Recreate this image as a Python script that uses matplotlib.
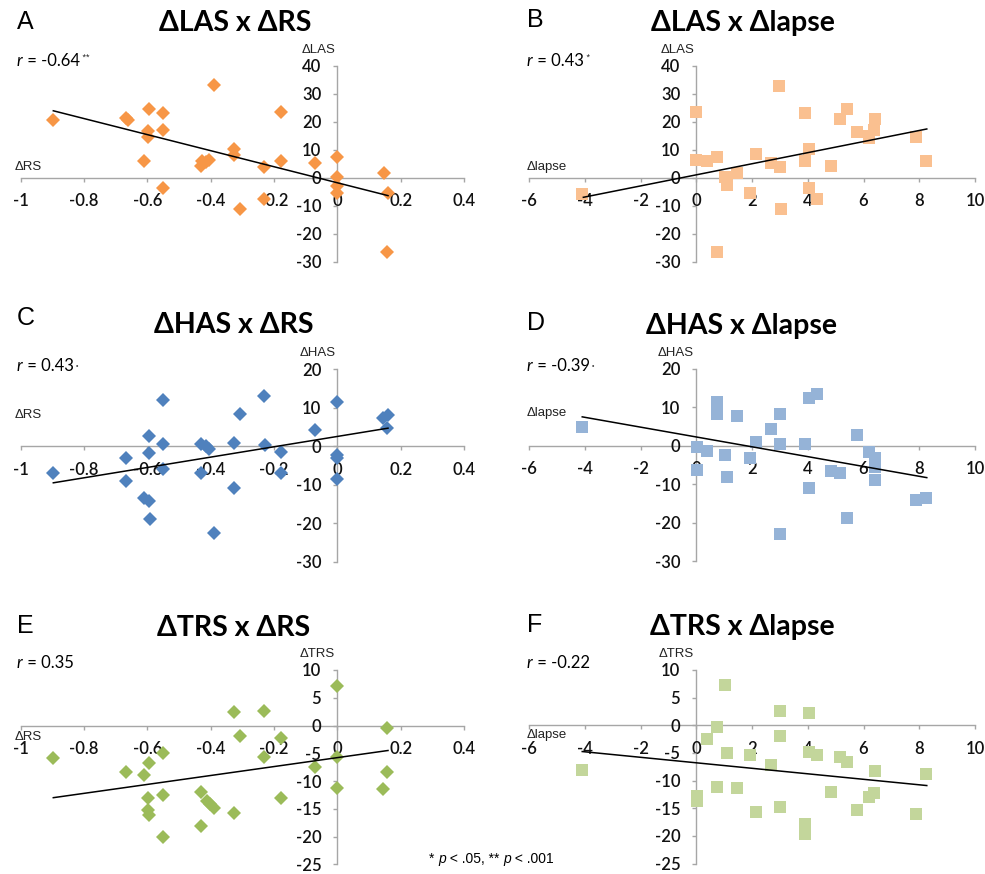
import matplotlib
matplotlib.use("Agg")
import matplotlib.pyplot as plt

plt.rcParams['axes.unicode_minus'] = False

# ---------------- data ----------------
A_x = [-0.897, -0.667, -0.66, -0.595, -0.551, -0.597, -0.597, -0.551, -0.61, -0.551, -0.39,
       -0.432, -0.428, -0.415, -0.405, -0.326, -0.326, -0.306, -0.231, -0.231, -0.178, -0.178,
       -0.069, 0.0, 0.0, 0.0, 0.0, 0.147, 0.16, 0.158]
A_y = [20.6, 21.5, 20.6, 24.5, 23.0, 16.7, 14.6, 17.0, 6.0, -3.6, 33.0,
       4.3, 6.0, 5.5, 6.5, 10.1, 8.1, -11.0, 3.9, -7.6, 23.6, 6.1,
       5.1, 7.5, 0.4, -2.9, -5.6, 1.8, -5.6, -26.5]
A_trend_x = [-0.897, 0.16]
A_trend_y = [23.9, -6.4]

B_x = [-4.09, 0.0, 0.0, 0.38, 0.73, 0.73, 1.03, 1.09, 1.45, 1.93, 2.13, 2.68, 2.98, 3.0, 3.03,
       3.9, 3.9, 4.05, 4.05, 4.32, 4.83, 5.16, 5.42, 5.78, 6.2, 6.36, 6.42, 7.89, 8.25, 6.2]
B_y = [-5.95, 23.6, 6.3, 6.0, 7.5, -26.7, 0.4, -2.6, 1.8, -5.6, 8.3, 5.1, 32.9, 3.9, -11.0,
       23.2, 6.0, 10.1, -3.8, -7.6, 4.3, 21.0, 24.5, 16.2, 15.0, 17.0, 21.0, 14.6, 6.0, 14.2]
B_trend_x = [-4.05, 8.27]
B_trend_y = [-7.0, 17.4]

C_x = [-0.897, -0.666, -0.666, -0.595, -0.595, -0.61, -0.595, -0.592, -0.551, -0.551, -0.551,
       -0.432, -0.43, -0.415, -0.405, -0.39, -0.326, -0.326, -0.306, -0.231, -0.229, -0.178,
       -0.178, -0.069, 0.0, 0.0, 0.0, 0.0, 0.144, 0.16, 0.158]
C_y = [-7.0, -3.1, -9.0, 2.7, -1.8, -13.5, -14.2, -18.9, 12.0, 0.6, -6.0,
       0.6, -6.9, 0.0, -0.6, -22.6, 0.8, -10.9, 8.4, 13.1, 0.2, -1.4,
       -6.9, 4.1, 11.6, -2.4, -3.1, -8.5, 7.3, 8.0, 4.7]
C_trend_x = [-0.897, 0.16]
C_trend_y = [-9.5, 4.7]

D_x = [-4.09, 0.02, 0.02, 0.4, 0.73, 0.73, 1.03, 1.09, 1.45, 1.93, 2.13, 2.68, 3.0, 3.0, 3.0,
       3.9, 4.05, 4.32, 4.05, 4.83, 5.16, 5.42, 5.78, 6.2, 6.42, 6.42, 6.42, 7.89, 8.25]
D_y = [4.7, -0.3, -6.4, -1.4, 11.4, 8.1, -2.5, -8.1, 7.6, -3.1, 1.0, 4.2, 8.3, 0.4, -23.0,
       0.5, 12.4, 13.3, -11.0, -6.6, -7.0, -18.9, 2.7, -1.6, -3.1, -5.5, -9.0, -14.2, -13.5]
D_trend_x = [-4.09, 8.27]
D_trend_y = [7.46, -8.3]

E_x = [-0.897, -0.666, -0.61, -0.595, -0.597, -0.597, -0.595, -0.551, -0.551, -0.551,
       -0.432, -0.43, -0.413, -0.403, -0.39, -0.326, -0.326, -0.306, -0.231, -0.231,
       -0.178, -0.178, -0.069, 0.0, 0.0, 0.0, 0.158, 0.158, 0.144]
E_y = [-5.8, -8.4, -8.9, -6.7, -13.0, -15.3, -16.1, -5.0, -12.5, -20.0,
       -12.0, -18.1, -13.6, -14.1, -14.9, 2.4, -15.8, -1.9, 2.6, -5.6,
       -2.3, -13.0, -7.4, 7.2, -5.6, -11.2, -0.5, -8.3, -11.4]
E_trend_x = [-0.897, 0.16]
E_trend_y = [-13.0, -4.5]

F_x = [-4.09, 0.02, 0.02, 0.4, 0.73, 0.73, 1.03, 1.09, 1.45, 1.93, 2.13, 2.68, 3.0, 3.0, 3.0,
       3.9, 3.9, 4.05, 4.05, 4.32, 4.83, 5.16, 5.42, 5.78, 6.2, 6.36, 6.42, 7.89, 8.25]
F_y = [-8.1, -12.8, -13.7, -2.4, -0.3, -11.1, 7.2, -5.1, -11.4, -5.4, -15.6, -7.2, 2.6, -1.9, -14.7,
       -17.9, -19.6, 2.3, -4.8, -5.4, -12.0, -5.7, -6.6, -15.3, -12.9, -12.3, -8.2, -16.0, -8.8]
F_trend_x = [-4.09, 8.27]
F_trend_y = [-4.75, -10.9]

rs_ticks = [-1, -0.8, -0.6, -0.4, -0.2, 0, 0.2, 0.4]
rs_labels = ['-1', '-0.8', '-0.6', '-0.4', '-0.2', '0', '0.2', '0.4']
lapse_ticks = [-6, -4, -2, 0, 2, 4, 6, 8, 10]
lapse_labels = ['-6', '-4', '-2', '0', '2', '4', '6', '8', '10']
las_ticks = [-30, -20, -10, 0, 10, 20, 30, 40]
has_ticks = [-30, -20, -10, 0, 10, 20]
trs_ticks = [-25, -20, -15, -10, -5, 0, 5, 10]

panels = [
    dict(letter='A', title='ΔLAS x ΔRS', x=A_x, y=A_y, tx=A_trend_x, ty=A_trend_y,
         xt=rs_ticks, xl=rs_labels, yt=las_ticks, ylab='ΔLAS', xlab='ΔRS',
         r='-0.64', sig='**', color='#F79646', marker='D'),
    dict(letter='B', title='ΔLAS x Δlapse', x=B_x, y=B_y, tx=B_trend_x, ty=B_trend_y,
         xt=lapse_ticks, xl=lapse_labels, yt=las_ticks, ylab='ΔLAS', xlab='Δlapse',
         r='0.43', sig='*', color='#FAC090', marker='s'),
    dict(letter='C', title='ΔHAS x ΔRS', x=C_x, y=C_y, tx=C_trend_x, ty=C_trend_y,
         xt=rs_ticks, xl=rs_labels, yt=has_ticks, ylab='ΔHAS', xlab='ΔRS',
         r='0.43', sig='dot', color='#4F81BD', marker='D'),
    dict(letter='D', title='ΔHAS x Δlapse', x=D_x, y=D_y, tx=D_trend_x, ty=D_trend_y,
         xt=lapse_ticks, xl=lapse_labels, yt=has_ticks, ylab='ΔHAS', xlab='Δlapse',
         r='-0.39', sig='dot', color='#95B3D7', marker='s'),
    dict(letter='E', title='ΔTRS x ΔRS', x=E_x, y=E_y, tx=E_trend_x, ty=E_trend_y,
         xt=rs_ticks, xl=rs_labels, yt=trs_ticks, ylab='ΔTRS', xlab='ΔRS',
         r='0.35', sig='', color='#9BBB59', marker='D'),
    dict(letter='F', title='ΔTRS x Δlapse', x=F_x, y=F_y, tx=F_trend_x, ty=F_trend_y,
         xt=lapse_ticks, xl=lapse_labels, yt=trs_ticks, ylab='ΔTRS', xlab='Δlapse',
         r='-0.22', sig='', color='#C3D69B', marker='s'),
]

# ---------------- layout (pixels) ----------------
W, H = 985, 874
rects = [(20.7, 464, 65.7, 261.7), (529, 975, 65.7, 261.7),
         (20.7, 464, 369.3, 561.7), (529, 975, 368.5, 561.3),
         (20.7, 464, 670, 864.3), (529, 975, 670, 863.5)]
letter_pos = [(17, 21.7), (527, 20), (17, 318), (527, 322.7), (17, 625.7), (527, 625)]
title_pos = [(235, 23.3), (742.5, 23.3), (234, 325), (742, 326), (234, 627.7), (742, 626.7)]
r_pos = [(17, 61), (527, 61), (17, 365.7), (527, 366), (17, 662.7), (527, 662.7)]
xlab_pos = [(15, 166.7), (527, 166.7), (15, 415), (527, 413.3), (15, 736.7), (527, 735)]

AXC = '#A6A6A6'
TF = ['Lato', 'DejaVu Sans']
AF = ['Liberation Sans', 'DejaVu Sans']

fig = plt.figure(figsize=(W / 100, H / 100), dpi=100)
fig.patch.set_facecolor('white')


def fx(x):
    return x / W


def fy(y):
    return 1 - y / H


for p, (l, r, t, b), lp, tp, rp, xp in zip(panels, rects, letter_pos, title_pos, r_pos, xlab_pos):
    ax = fig.add_axes([fx(l), fy(b), (r - l) / W, (b - t) / H])
    ax.set_facecolor('none')
    ax.set_xlim(p['xt'][0], p['xt'][-1])
    ax.set_ylim(p['yt'][0], p['yt'][-1])
    for s in ('top', 'right'):
        ax.spines[s].set_visible(False)
    ax.spines['left'].set_position(('data', 0))
    ax.spines['bottom'].set_position(('data', 0))
    for s in ('left', 'bottom'):
        ax.spines[s].set_color(AXC)
        ax.spines[s].set_linewidth(1.0)
        ax.spines[s].set_zorder(1)
    ax.set_xticks(p['xt'])
    ax.set_xticklabels(p['xl'])
    ax.set_yticks(p['yt'])
    ax.set_yticklabels([str(v) for v in p['yt']])
    ax.tick_params(axis='x', direction='out', length=3, width=1.0, color=AXC, pad=8,
                   labelsize=12)
    ax.tick_params(axis='y', direction='out', length=3, width=1.0, color=AXC, pad=8.5,
                   labelsize=12)
    for lab in ax.get_xticklabels() + ax.get_yticklabels():
        lab.set_family(TF)
        lab.set_fontweight('semibold')
        lab.set_color('#111111')
    ms = 9.2 if p['marker'] == 's' else 6.8
    ax.plot(p['x'], p['y'], linestyle='none', marker=p['marker'], ms=ms,
            mfc=p['color'], mec=p['color'], mew=0, zorder=3, clip_on=False)
    ax.plot(p['tx'], p['ty'], color='black', lw=1.1, zorder=4, clip_on=False)

    # y-axis label above y axis
    ax.annotate(p['ylab'], xy=(0, p['yt'][-1]), xycoords='data',
                xytext=(-2, 16), textcoords='offset pixels', ha='right', va='center',
                family=AF, fontsize=9.5, color='#222222')
    # x-axis label
    fig.text(fx(xp[0]), fy(xp[1]), p['xlab'], ha='left', va='center',
             family=AF, fontsize=9.5, color='#222222')
    # panel letter
    fig.text(fx(lp[0]), fy(lp[1]), p['letter'], ha='left', va='center',
             family=AF, fontsize=18, color='black')
    # title
    fig.text(fx(tp[0]), fy(tp[1]), p['title'], ha='center', va='center',
             family=TF, fontsize=20.5, fontweight='bold', color='black')
    # r annotation
    t1 = fig.text(fx(rp[0]), fy(rp[1]), 'r', ha='left', va='center', family=TF,
                  fontsize=12, style='italic', color='black')
    t2 = fig.add_artist(plt.Annotation(' = ' + p['r'], xy=(1, 0), xycoords=t1,
                                       ha='left', va='bottom', family=TF, fontsize=12,
                                       color='black'))
    if p['sig'] in ('*', '**'):
        fig.add_artist(plt.Annotation(' ' + p['sig'], xy=(1, 1), xycoords=t2,
                                      ha='left', va='top', family=AF, fontsize=6.5,
                                      color='#222222'))
    elif p['sig'] == 'dot':
        fig.add_artist(plt.Annotation(' •', xy=(1, 0.45), xycoords=t2,
                                      ha='left', va='center', family=AF, fontsize=5,
                                      color='#444444'))

# footnote
parts = [('* ', 'normal'), ('p', 'italic'), (' < .05, ** ', 'normal'), ('p', 'italic'),
         (' < .001', 'normal')]
prev = fig.text(fx(429), fy(859), parts[0][0], ha='left', va='center', family=AF,
                fontsize=10, style=parts[0][1], color='black')
for txt, st in parts[1:]:
    prev = fig.add_artist(plt.Annotation(txt, xy=(1, 0), xycoords=prev, ha='left',
                                         va='bottom', family=AF, fontsize=10, style=st,
                                         color='black'))

fig.savefig('out.png', dpi=100, facecolor='white')
